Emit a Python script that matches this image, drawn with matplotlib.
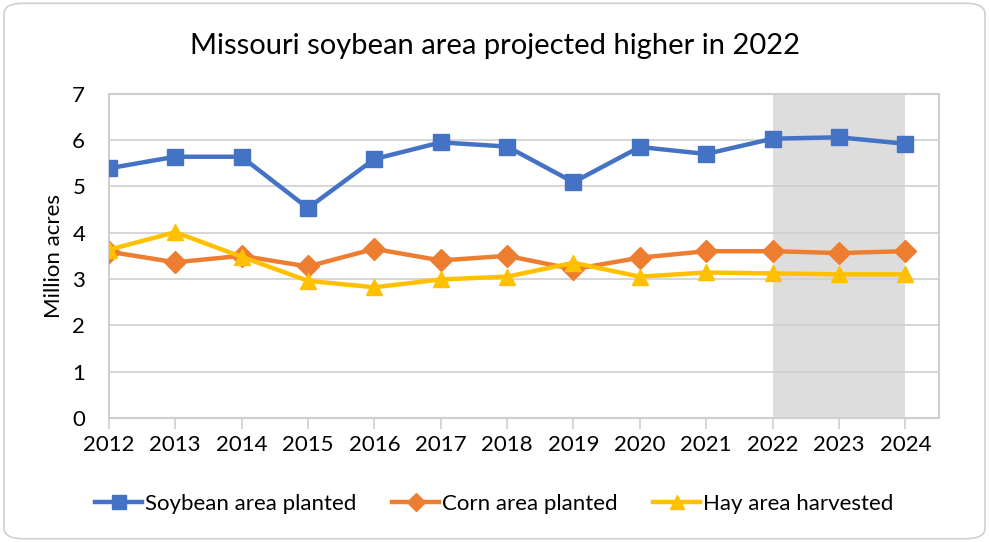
import matplotlib
matplotlib.use("Agg")
import matplotlib.pyplot as plt
from matplotlib.patches import FancyBboxPatch

years = [2012, 2013, 2014, 2015, 2016, 2017, 2018, 2019, 2020, 2021, 2022, 2023, 2024]
soybean = [5.39, 5.64, 5.64, 4.53, 5.59, 5.95, 5.86, 5.09, 5.85, 5.70, 6.03, 6.06, 5.92]
corn = [3.59, 3.36, 3.50, 3.27, 3.65, 3.40, 3.50, 3.21, 3.46, 3.60, 3.60, 3.56, 3.60]
hay = [3.63, 4.01, 3.48, 2.96, 2.82, 2.99, 3.05, 3.35, 3.05, 3.14, 3.12, 3.10, 3.10]
yticks = [0, 1, 2, 3, 4, 5, 6, 7]
proj_start, proj_end = 2022, 2024

plt.rcParams['font.family'] = ['Lato', 'DejaVu Sans']

fig = plt.figure(figsize=(9.89, 5.42), dpi=100)
border = FancyBboxPatch((0.004, 0.006), 0.992, 0.988, boxstyle="round,pad=0,rounding_size=0.02",
                        transform=fig.transFigure, facecolor='white', edgecolor='#D0D0D0',
                        linewidth=1.2, zorder=-5)
fig.patches.append(border)

ax = fig.add_axes([0.110, 0.229, 0.839, 0.598])
ax.axvspan(proj_start, proj_end, color='#DDDDDD', zorder=0.3, linewidth=0)
ax.set_axisbelow(True)
ax.grid(axis='y', color='#CFCFCF', linewidth=1.2, zorder=0.5)

ax.plot(years, soybean, color='#4472C4', lw=3.2, marker='s', ms=12, label='Soybean area planted', zorder=3)
ax.plot(years, corn, color='#ED7D31', lw=3.2, marker='D', ms=11, label='Corn area planted', zorder=3)
ax.plot(years, hay, color='#FFC000', lw=3.2, marker='^', ms=12, label='Hay area harvested', zorder=4)

ax.set_xlim(2012, 2024.5)
ax.set_ylim(0, 7)
ax.set_xticks(years)
ax.set_xticklabels([str(y) for y in years])
ax.set_yticks(yticks)
for s in ax.spines.values():
    s.set_color('#CFCFCF')
    s.set_linewidth(1.5)
ax.tick_params(axis='x', length=8, color='#CFCFCF', width=1.2, labelsize=16, pad=4)
ax.tick_params(axis='y', length=0, labelsize=16, pad=17)
ax.set_ylabel('Million acres', fontsize=16, labelpad=6)

fig.text(0.5, 0.915, 'Missouri soybean area projected higher in 2022', ha='center', va='center', fontsize=21)

fig.legend(loc='center', bbox_to_anchor=(0.5, 0.07), ncol=3, frameon=False, fontsize=16,
           handlelength=2.1, columnspacing=1.6, handletextpad=0.15, markerscale=0.85)

fig.savefig('out.png', dpi=100)
